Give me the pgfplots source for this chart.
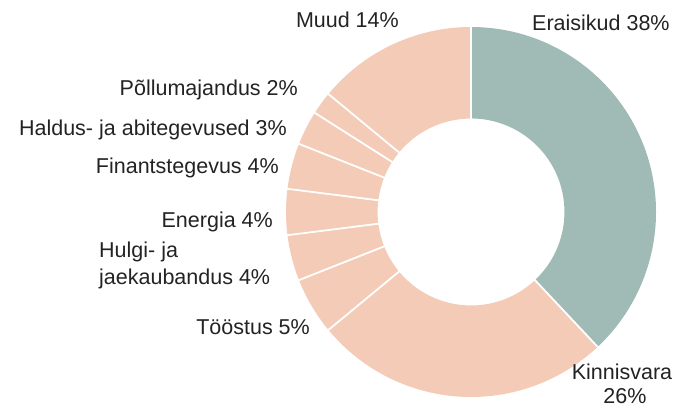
\documentclass[border=0pt]{standalone}
\usepackage{pgfplots}
\pgfplotsset{compat=1.18}
\usepackage{fontspec}
\setmainfont{Liberation Sans}
\definecolor{cteal}{RGB}{160,187,182}
\definecolor{cpeach}{RGB}{243,203,182}
\definecolor{ctext}{RGB}{35,35,35}
% #1 cumulative start (percent), #2 share (percent), #3 colour
\newcommand{\ring}[3]{%
  \pgfmathsetmacro\aS{90-3.6*#1}%
  \pgfmathsetmacro\aE{90-3.6*(#1+#2)}%
  \edef\tmp{\noexpand\fill[#3] (axis cs:{cos(\aS)},{sin(\aS)}) arc[start angle=\aS,end angle=\aE,radius=185pt]
     -- (axis cs:{0.505*cos(\aE)},{0.505*sin(\aE)}) arc[start angle=\aE,end angle=\aS,radius=93.5pt] -- cycle;}%
  \tmp
}
% separator at cumulative percent #1
\newcommand{\sep}[1]{%
  \pgfmathsetmacro\aS{90-3.6*#1}%
  \edef\tmp{\noexpand\draw[white,line width=1.8pt] (axis cs:{0.49*cos(\aS)},{0.49*sin(\aS)}) -- (axis cs:{1.01*cos(\aS)},{1.01*sin(\aS)});}%
  \tmp
}
\begin{document}
\begin{tikzpicture}[x=1pt,y=1pt]
\useasboundingbox (0,0) rectangle (679,408);
\begin{axis}[at={(286pt,11pt)},anchor=south west,scale only axis,
  width=370pt,height=370pt,xmin=-1,xmax=1,ymin=-1,ymax=1,hide axis]
\ring{0}{38}{cteal}
\ring{38}{26}{cpeach}
\ring{64}{5}{cpeach}
\ring{69}{4}{cpeach}
\ring{73}{4}{cpeach}
\ring{77}{4}{cpeach}
\ring{81}{3}{cpeach}
\ring{84}{2}{cpeach}
\ring{86}{14}{cpeach}
\sep{0}\sep{38}\sep{64}\sep{69}\sep{73}\sep{77}\sep{81}\sep{84}\sep{86}
\end{axis}
\begin{scope}[every node/.style={inner sep=0pt,text=ctext,font=\fontsize{21.5}{26}\selectfont}]
\node[anchor=base east] at (399,381) {Muud 14\%};
\node[anchor=base west] at (532,377) {Eraisikud 38\%};
\node[anchor=base east] at (298,313) {Põllumajandus 2\%};
\node[anchor=base east] at (287,273) {Haldus- ja abitegevused 3\%};
\node[anchor=base east] at (279,235) {Finantstegevus 4\%};
\node[anchor=base east] at (273,181) {Energia 4\%};
\node[anchor=base west] at (99,151) {Hulgi- ja};
\node[anchor=base west] at (99,124) {jaekaubandus 4\%};
\node[anchor=base east] at (310,74) {Tööstus 5\%};
\node[anchor=base] at (622,29) {Kinnisvara};
\node[anchor=base] at (625,5) {26\%};
\end{scope}
\end{tikzpicture}
\end{document}
